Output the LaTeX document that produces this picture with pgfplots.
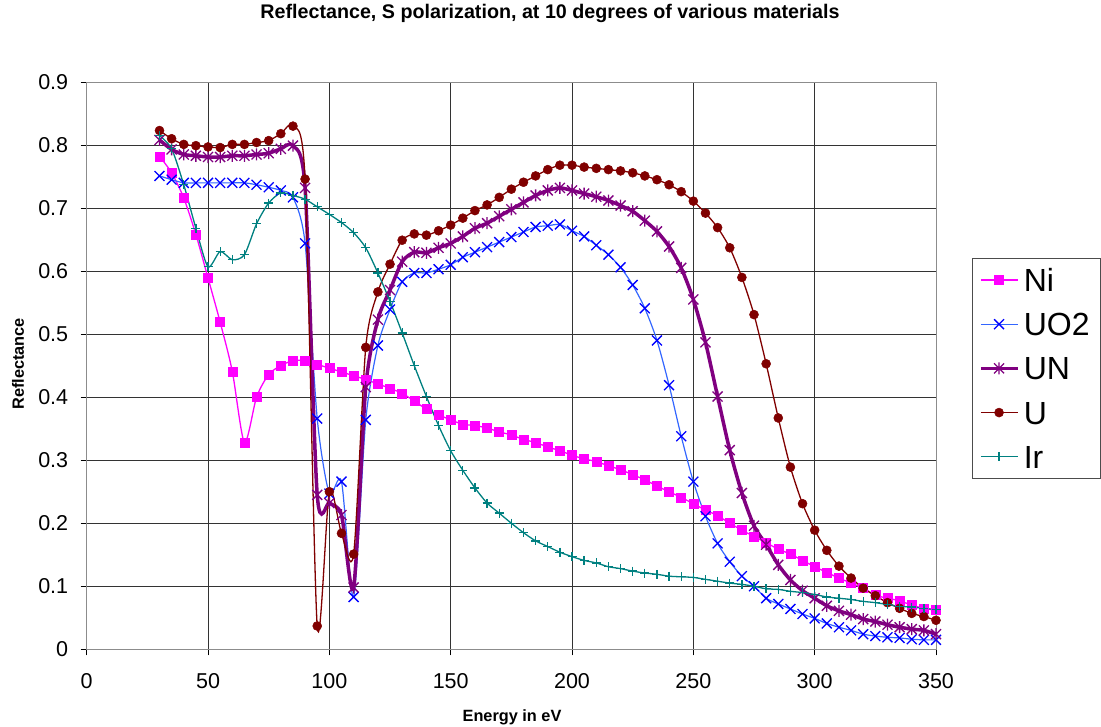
\documentclass[border=0pt]{standalone}
\usepackage{pgfplots}
\usepackage{pgfplotstable}
\pgfplotsset{compat=1.18}
\usepackage{fontspec}
\setmainfont{Liberation Sans}
\definecolor{niC}{HTML}{FF00FF}
\definecolor{uoLine}{HTML}{3366FF}
\definecolor{uoMark}{HTML}{0000FF}
\definecolor{unC}{HTML}{800080}
\definecolor{uC}{HTML}{800000}
\definecolor{irC}{HTML}{008080}
\pgfdeclareplotmark{xstar}{%
  \pgfpathmoveto{\pgfqpoint{-\pgfplotmarksize}{-\pgfplotmarksize}}%
  \pgfpathlineto{\pgfqpoint{\pgfplotmarksize}{\pgfplotmarksize}}%
  \pgfpathmoveto{\pgfqpoint{-\pgfplotmarksize}{\pgfplotmarksize}}%
  \pgfpathlineto{\pgfqpoint{\pgfplotmarksize}{-\pgfplotmarksize}}%
  \pgfpathmoveto{\pgfqpoint{0pt}{-1.2\pgfplotmarksize}}%
  \pgfpathlineto{\pgfqpoint{0pt}{1.2\pgfplotmarksize}}%
  \pgfusepathqstroke}
\pgfplotstableread{
x ni uo un u ir
30 0.782 0.751 0.808 0.823 0.815
35 0.756 0.745 0.793 0.810 0.794
40 0.716 0.740 0.785 0.801 0.737
45 0.658 0.740 0.783 0.799 0.668
50 0.589 0.740 0.781 0.797 0.607
55 0.519 0.740 0.781 0.796 0.631
60 0.441 0.740 0.783 0.801 0.618
65 0.328 0.740 0.783 0.801 0.626
70 0.400 0.737 0.785 0.804 0.675
75 0.436 0.733 0.787 0.807 0.708
80 0.450 0.728 0.794 0.818 0.724
85 0.458 0.717 0.799 0.830 0.720
90 0.458 0.644 0.732 0.746 0.714
95 0.452 0.366 0.245 0.037 0.702
100 0.446 0.247 0.232 0.250 0.690
105 0.440 0.266 0.213 0.184 0.677
110 0.434 0.083 0.098 0.151 0.661
115 0.428 0.364 0.416 0.479 0.637
120 0.421 0.482 0.523 0.567 0.597
125 0.414 0.539 0.570 0.611 0.552
130 0.406 0.583 0.615 0.649 0.502
135 0.394 0.597 0.630 0.659 0.450
140 0.381 0.597 0.629 0.657 0.401
145 0.372 0.603 0.637 0.664 0.355
150 0.364 0.610 0.644 0.673 0.315
155 0.357 0.622 0.655 0.684 0.284
160 0.355 0.630 0.668 0.696 0.256
165 0.351 0.638 0.676 0.705 0.232
170 0.345 0.646 0.687 0.717 0.216
175 0.340 0.654 0.698 0.730 0.200
180 0.333 0.662 0.709 0.741 0.185
185 0.328 0.670 0.720 0.751 0.172
190 0.321 0.672 0.728 0.761 0.163
195 0.315 0.674 0.732 0.768 0.154
200 0.308 0.664 0.728 0.768 0.147
205 0.302 0.655 0.723 0.765 0.141
210 0.298 0.641 0.718 0.763 0.137
215 0.291 0.626 0.712 0.761 0.131
220 0.285 0.606 0.704 0.759 0.128
225 0.277 0.578 0.695 0.756 0.124
230 0.269 0.541 0.680 0.751 0.121
235 0.259 0.490 0.663 0.745 0.119
240 0.250 0.419 0.639 0.737 0.116
245 0.241 0.338 0.605 0.726 0.115
250 0.231 0.266 0.555 0.711 0.114
255 0.221 0.211 0.487 0.692 0.111
260 0.212 0.168 0.401 0.669 0.108
265 0.200 0.139 0.316 0.637 0.105
270 0.189 0.116 0.248 0.590 0.103
275 0.179 0.100 0.196 0.531 0.100
280 0.169 0.081 0.166 0.453 0.096
285 0.159 0.072 0.134 0.367 0.095
290 0.151 0.064 0.110 0.289 0.092
295 0.141 0.056 0.093 0.231 0.090
300 0.131 0.049 0.081 0.189 0.087
305 0.122 0.041 0.069 0.157 0.083
310 0.113 0.035 0.061 0.132 0.081
315 0.105 0.030 0.055 0.113 0.079
320 0.097 0.024 0.048 0.097 0.076
325 0.086 0.021 0.044 0.085 0.074
330 0.081 0.019 0.039 0.074 0.071
335 0.077 0.018 0.035 0.065 0.068
340 0.070 0.016 0.032 0.057 0.067
345 0.065 0.015 0.030 0.052 0.065
350 0.062 0.015 0.024 0.046 0.063
}\datatab
\begin{document}
\begin{tikzpicture}[x=1pt,y=1pt]
\path[use as bounding box] (0,0) rectangle (1101,726);
\begin{axis}[
  at={(86.7pt,76.7pt)}, anchor=south west,
  scale only axis, width=849.3pt, height=567.3pt,
  xmin=0, xmax=350, ymin=0, ymax=0.9,
  clip=false,
  xtick={0,50,100,150,200,250,300,350},
  xticklabels={0,50,100,150,200,250,300,350},
  ytick={0,0.1,0.2,0.3,0.4,0.5,0.6,0.7,0.8,0.9},
  yticklabels={0,0.1,0.2,0.3,0.4,0.5,0.6,0.7,0.8,0.9},
  grid=major,
  major grid style={black!80, line width=0.9pt},
  axis line style={black!45, line width=1pt},
  tick align=outside, tick pos=left, major tick length=6pt,
  tick style={black, line width=0.9pt},
  ticklabel style={font=\fontsize{21.5}{24}\selectfont},
  xticklabel style={yshift=-15pt},
  yticklabel style={xshift=-9pt},
  title={Reflectance, S polarization, at 10 degrees of various materials},
  title style={at={(axis description cs:0.5455,1.1022)}, anchor=base, font=\bfseries\fontsize{19.7}{22}\selectfont},
  xlabel={Energy in eV},
  xlabel style={at={(axis description cs:0.5008,-0.1276)}, anchor=base, font=\bfseries\fontsize{16.3}{18}\selectfont},
  ylabel={Reflectance},
  ylabel style={at={(axis description cs:-0.0809,0.5029)}, anchor=center, font=\bfseries\fontsize{16.3}{18}\selectfont},
  legend cell align=left,
  legend image code/.code={\draw[mark repeat=2,mark phase=2,#1] plot coordinates {(0pt,0pt) (18.3pt,0pt) (36.6pt,0pt)};},
  legend style={at={(axis description cs:1.0424,0.6898)}, anchor=north west,
    draw=black!70, line width=1pt, fill=white,
    font=\fontsize{32}{34}\selectfont,
    inner xsep=6.5pt, inner ysep=8pt, row sep=17.2pt,
    nodes={inner xsep=4.7pt, inner ysep=2pt, text height=23pt, text depth=0pt}},
  every axis plot/.append style={smooth, tension=0.45},
]
\addplot[color=niC, line width=1.3pt, mark=square*, mark size=4.5pt, mark options={solid, fill=niC, line width=0.5pt}] table[x=x,y=ni]{\datatab};
\addlegendentry{Ni}
\addplot[color=uoLine, line width=1.2pt, mark=x, mark size=7pt, mark options={solid, draw=uoMark, line width=1.3pt}] table[x=x,y=uo]{\datatab};
\addlegendentry{UO2}
\addplot[color=unC, line width=3.5pt, mark=xstar, mark size=5pt, mark options={solid, line width=1.3pt}] table[x=x,y=un]{\datatab};
\addlegendentry{UN}
\addplot[color=uC, line width=1.3pt, mark=*, mark size=4.5pt, mark options={solid, fill=uC, line width=0.5pt}] table[x=x,y=u]{\datatab};
\addlegendentry{U}
\addplot[color=irC, line width=1.3pt, mark=+, mark size=4.5pt, mark options={solid, line width=1.3pt}] table[x=x,y=ir]{\datatab};
\addlegendentry{Ir}
\end{axis}
\end{tikzpicture}
\end{document}
